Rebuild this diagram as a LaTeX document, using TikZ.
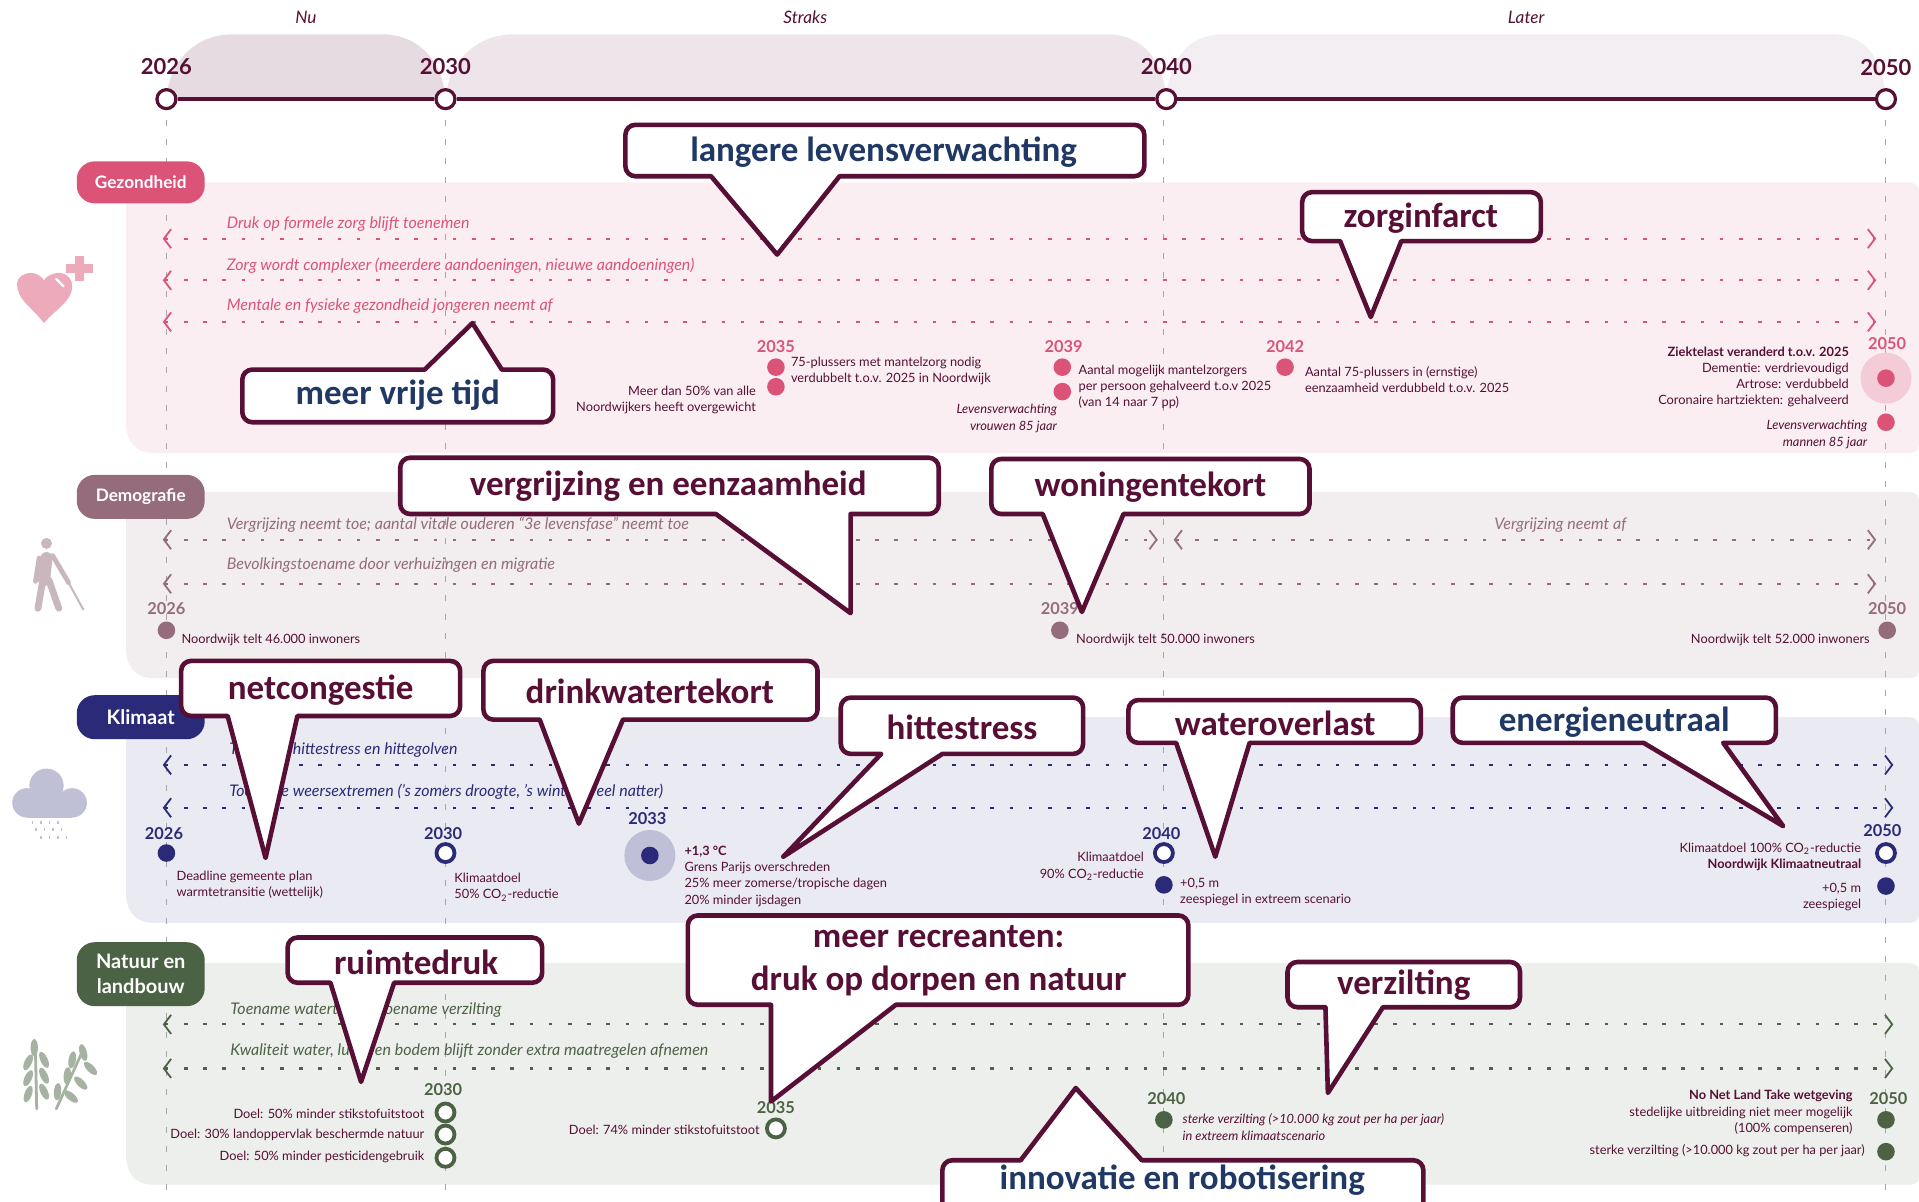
\documentclass[tikz,border=0pt]{standalone}
\usepackage{fontspec}
\setmainfont{Lato}
\newfontfamily\callfont{Carlito}
\usetikzlibrary{arrows.meta}

\definecolor{maroon}{HTML}{570F35}
\definecolor{pinkc}{HTML}{DB5478}
\definecolor{mauvec}{HTML}{956C7B}
\definecolor{navyc}{HTML}{2A2A78}
\definecolor{greenc}{HTML}{4B6344}
\definecolor{callnavy}{HTML}{1F3864}

\tikzset{
 arch/.style={fill=#1,draw=none},
 band/.style={fill=#1,draw=none},
 yearline/.style={draw=black!35,line width=0.5pt,dash pattern=on 3pt off 6.5pt},
 yearring/.style={circle,draw=maroon,fill=white,line width=1.6pt,minimum size=9.5pt,inner sep=0pt},
 yearlabel/.style={font=\bfseries\fontsize{11}{12}\selectfont,text=maroon,inner sep=0pt},
 phase/.style={font=\itshape\fontsize{8.6}{10}\selectfont,text=maroon,inner sep=0pt},
 pill/.style={rounded corners=9pt,fill=#1,text=white,minimum width=64pt,inner sep=0pt,align=center,font=\bfseries\fontsize{8.6}{10}\selectfont},
 trend/.style={draw=#1,line width=1.1pt,dash pattern=on 1.8pt off 7.8pt,
  {Straight Barb[length=3.6pt,width=9.5pt,line width=0.9pt]}-{Straight Barb[length=3.6pt,width=9.5pt,line width=0.9pt]}},
 trendtxt/.style={text=#1,anchor=west,inner sep=0pt,font=\itshape\fontsize{8}{10}\selectfont},
 mark/.style={},
 markyear/.style={text=#1,inner sep=0pt,font=\bfseries\fontsize{8.2}{10}\selectfont},
 markdot/.style={circle,fill=#1,minimum size=8.8pt,inner sep=0pt},
 markring/.style={circle,draw=#1,fill=white,line width=1.9pt,minimum size=9pt,inner sep=0pt},
 halo/.style={circle,fill=#1,minimum size=25.5pt,inner sep=0pt},
 lefttxt/.style={text=maroon,anchor=west,align=left,inner sep=0pt,font=\fontsize{6.4}{8.15}\selectfont},
 righttxt/.style={text=maroon,anchor=east,align=right,inner sep=0pt,font=\fontsize{6.4}{8.15}\selectfont},
 callline/.style={draw=maroon,fill=white,line width=2.3pt,line join=round},
 calltxt/.style={text=#1,inner sep=0pt,align=center,font=\callfont\bfseries\fontsize{17.5}{21.4}\selectfont},
}

\newcommand{\calloutdown}[8]{
 \path[callline] (#7,#8) -- ({#6},{#4-2}) [rounded corners=5pt] -- ({#3-2},{#4-2}) -- ({#3-2},{#2+2}) -- ({#1+2},{#2+2}) -- ({#1+2},{#4-2}) [sharp corners] -- ({#5},{#4-2}) -- cycle;
}
\newcommand{\calloutup}[8]{
 \path[callline] (#7,#8) -- ({#6},{#2+2}) [rounded corners=5pt] -- ({#3-2},{#2+2}) -- ({#3-2},{#4-2}) -- ({#1+2},{#4-2}) -- ({#1+2},{#2+2}) [sharp corners] -- ({#5},{#2+2}) -- cycle;
}
\newcommand{\grain}[3]{
 \fill[black!0,fill=wheatc] (#1,#2) ellipse[x radius=3,y radius=7,rotate=#3];
}
\definecolor{wheatc}{HTML}{A6B3A2}

\begin{document}
\begin{tikzpicture}[x=0.612pt,y=-0.612pt]
 \clip (0,0) rectangle (1568,982);
 \fill[white] (0,0) rectangle (1568,982);

 % periods
 \path[arch=maroon!15] (136,81) .. controls (138,50) and (160,28) .. (190,28) -- (312,28) .. controls (342,28) and (362,50) .. (364,81) -- cycle;
 \path[arch=maroon!11] (364,81) .. controls (366,50) and (390,28) .. (420,28) -- (904,28) .. controls (934,28) and (951,50) .. (953,81) -- cycle;
 \path[arch=maroon!7] (953,81) .. controls (955,50) and (970,28) .. (1000,28) -- (1496,28) .. controls (1526,28) and (1539,50) .. (1541,81) -- cycle;

 \node[phase] (Nu) at(250,14) {Nu};
 \node[phase] (Straks) at(658,14) {Straks};
 \node[phase] (Later) at(1247,14) {Later};

 % bands
 \path[band=pinkc!10] (125,149) -- (1560,149) .. controls (1565,149) and (1568,152) .. (1568,156) -- (1568,363) .. controls (1568,368) and (1565,370) .. (1560,370) -- (125,370) .. controls (110,370) and (103,360) .. (103,345) -- (103,149) -- cycle;
 \path[band=mauvec!12] (125,402) -- (1560,402) .. controls (1565,402) and (1568,405) .. (1568,409) -- (1568,547) .. controls (1568,552) and (1565,554) .. (1560,554) -- (125,554) .. controls (110,554) and (103,544) .. (103,529) -- (103,402) -- cycle;
 \path[band=navyc!10] (125,586) -- (1560,586) .. controls (1565,586) and (1568,589) .. (1568,593) -- (1568,747) .. controls (1568,752) and (1565,754) .. (1560,754) -- (125,754) .. controls (110,754) and (103,744) .. (103,729) -- (103,586) -- cycle;
 \path[band=greenc!10] (125,787) -- (1560,787) .. controls (1565,787) and (1568,790) .. (1568,794) -- (1568,961) .. controls (1568,966) and (1565,968) .. (1560,968) -- (125,968) .. controls (110,968) and (103,958) .. (103,943) -- (103,787) -- cycle;

 % timeline
 \coordinate (v2026) at(136,98);
 \coordinate (v2030) at(364,98);
 \coordinate (v2040) at(951,98);
 \coordinate (v2050) at(1541,98);
 \coordinate (w2026) at(136,982);
 \coordinate (w2030) at(364,982);
 \coordinate (w2040) at(951,982);
 \coordinate (w2050) at(1541,982);
 \draw[yearline] (v2026) -- (w2026);
 \draw[yearline] (v2030) -- (w2030);
 \draw[yearline] (v2040) -- (w2040);
 \draw[yearline] (v2050) -- (w2050);

 \node[yearring] (t2026) at(136,81) {};
 \node[yearring] (t2030) at(364,81) {};
 \node[yearring] (t2040) at(953,81) {};
 \node[yearring] (t2050) at(1541,81) {};
 \draw[maroon,line width=1.7pt] (t2026) -- (t2030);
 \draw[maroon,line width=1.7pt] (t2030) -- (t2040);
 \draw[maroon,line width=1.7pt] (t2040) -- (t2050);

 \node[yearlabel] (y2026) at(136,54) {2026};
 \node[yearlabel] (y2030) at(364,54) {2030};
 \node[yearlabel] (y2040) at(953,54) {2040};
 \node[yearlabel] (y2050) at(1541,55) {2050};

 % categories
 \node[pill=pinkc,minimum height=21pt] (Gezondheid) at(115,149) {Gezondheid};
 \node[pill=mauvec,minimum height=22pt] (Demografie) at(115,406) {Demografie};
 \node[pill=navyc,minimum height=22pt,font=\bfseries\fontsize{10}{12}\selectfont] (Klimaat) at(115,586) {Klimaat};
 \node[pill=greenc,minimum height=32pt,font=\bfseries\fontsize{10}{12.4}\selectfont] (Natuur) at(115,796) {Natuur en\\landbouw};

 % icons
 \fill[pinkc!50] (36,264) .. controls (25,250) and (14,245) .. (14,232) .. controls (14,226) and (20,223) .. (25,223) .. controls (30,223) and (34,226) .. (36,229) .. controls (38,225) and (44,223) .. (48,223) .. controls (55,223) and (59,228) .. (59,234) .. controls (59,246) and (46,252) .. (36,264) -- cycle;
 \draw[white,line width=1.2pt,line cap=round] (46,228) -- (52,234);
 \fill[pinkc!50] (61.5,209) rectangle (68.5,230);
 \fill[pinkc!50] (54,216) rectangle (76,223);

 \fill[mauvec!50] (38,444) circle[radius=4.5];
 \draw[mauvec!50,line width=6pt,line cap=round] (38,456) -- (36,474);
 \draw[mauvec!50,line width=3.4pt,line cap=round] (35,474) -- (31,497);
 \draw[mauvec!50,line width=3.4pt,line cap=round] (40,474) -- (48,497);
 \draw[mauvec!50,line width=2.4pt,line cap=round] (43,454) -- (56,476);
 \draw[mauvec!50,line width=2.4pt,line cap=round] (32,456) -- (29,475);
 \draw[mauvec!50,line width=1pt,line cap=round] (56,476) -- (68,498);

 \fill[navyc!30] (38,642) circle[radius=14];
 \fill[navyc!30] (22,656) circle[radius=12];
 \fill[navyc!30] (59,656) circle[radius=12];
 \fill[navyc!30] (22,650) rectangle (59,668);
 \draw[navyc!30,line width=1.6pt,dash pattern=on 0.8pt off 3.4pt] (26,672) -- (50,672);
 \draw[navyc!30,line width=1.6pt,dash pattern=on 0.8pt off 3.4pt] (29,678) -- (54,678);
 \draw[navyc!30,line width=1.6pt,dash pattern=on 0.8pt off 3.4pt] (33,684) -- (58,684);

 \draw[wheatc,line width=1.4pt,line cap=round] (30,906) -- (29,860);
 \draw[wheatc,line width=1.4pt,line cap=round] (46,906) -- (66,862);
 \grain{28}{856}{0}
 \grain{23}{868}{-25}
 \grain{36}{866}{25}
 \grain{23}{881}{-25}
 \grain{36}{879}{25}
 \grain{23}{894}{-20}
 \grain{36}{892}{25}
 \grain{68}{860}{15}
 \grain{59}{866}{-10}
 \grain{74}{873}{45}
 \grain{55}{879}{-5}
 \grain{66}{885}{45}
 \grain{47}{892}{-5}
 \grain{58}{896}{50}

 % Gezondheid
 \coordinate (g1a) at(133,195); \coordinate (g1b) at(1533,195);
 \coordinate (g2a) at(133,229); \coordinate (g2b) at(1533,229);
 \coordinate (g3a) at(133,263); \coordinate (g3b) at(1533,263);
 \draw[trend=pinkc] (g1a) -- (g1b);
 \draw[trend=pinkc] (g2a) -- (g2b);
 \draw[trend=pinkc] (g3a) -- (g3b);
 \node[trendtxt=pinkc] (g1t) at(185,183) {Druk op formele zorg blijft toenemen};
 \node[trendtxt=pinkc] (g2t) at(185,217) {Zorg wordt complexer (meerdere aandoeningen, nieuwe aandoeningen)};
 \node[trendtxt=pinkc] (g3t) at(185,250) {Mentale en fysieke gezondheid jongeren neemt af};

 \node[markyear=pinkc] (g2035) at(634,283) {2035};
 \node[markdot=pinkc] (g35a) at(634,300) {};
 \node[markdot=pinkc] (g35b) at(634,316) {};
 \node[lefttxt] (g35t) at(646,303) {75-plussers met mantelzorg nodig\\verdubbelt t.o.v. 2025 in Noordwijk};
 \node[righttxt] (g35r) at(618,327) {Meer dan 50\% van alle\\Noordwijkers heeft overgewicht};

 \node[markyear=pinkc] (g2039) at(869,283) {2039};
 \node[markdot=pinkc] (g39a) at(868,300) {};
 \node[markdot=pinkc] (g39b) at(868,320) {};
 \node[lefttxt] (g39t) at(881,316) {Aantal mogelijk mantelzorgers\\per persoon gehalveerd t.o.v 2025\\(van 14 naar 7 pp)};
 \node[righttxt,font=\itshape\fontsize{6.4}{8.15}\selectfont] (g39r) at(864,342) {Levensverwachting\\vrouwen 85 jaar};

 \node[markyear=pinkc] (g2042) at(1050,283) {2042};
 \node[markdot=pinkc] (g42a) at(1050,300) {};
 \node[lefttxt] (g42t) at(1066,310) {Aantal 75-plussers in (ernstige)\\eenzaamheid verdubbeld t.o.v. 2025};

 \node[halo=pinkc!30] (g50h) at(1541,309) {};
 \node[markyear=pinkc] (g2050) at(1542,281) {2050};
 \node[markdot=pinkc] (g50a) at(1541,309) {};
 \node[markdot=pinkc] (g50b) at(1541,345) {};
 \node[righttxt] (g50t) at(1511,308) {\textbf{Ziektelast veranderd t.o.v. 2025}\\Dementie: verdrievoudigd\\Artrose: verdubbeld\\Coronaire hartziekten: gehalveerd};
 \node[righttxt,font=\itshape\fontsize{6.4}{8.15}\selectfont] (g50r) at(1526,355) {Levensverwachting\\mannen 85 jaar};

 % Demografie
 \coordinate (d1a) at(133,441); \coordinate (d1b) at(946,441);
 \coordinate (d1c) at(959,441); \coordinate (d1d) at(1533,441);
 \coordinate (d2a) at(133,477); \coordinate (d2b) at(1533,477);
 \draw[trend=mauvec] (d1a) -- (d1b);
 \draw[trend=mauvec] (d1c) -- (d1d);
 \draw[trend=mauvec] (d2a) -- (d2b);
 \node[trendtxt=mauvec] (d1t) at(185,429) {Vergrijzing neemt toe; aantal vitale ouderen “3e levensfase” neemt toe};
 \node[trendtxt=mauvec,anchor=center] (d1u) at(1275,429) {Vergrijzing neemt af};
 \node[trendtxt=mauvec] (d2t) at(185,462) {Bevolkingstoename door verhuizingen en migratie};

 \node[markyear=mauvec] (d2026) at(136,497) {2026};
 \node[markdot=mauvec] (d26a) at(136,515) {};
 \node[lefttxt] (d26t) at(148,523) {Noordwijk telt 46.000 inwoners};
 \node[markyear=mauvec] (d2039) at(866,497) {2039};
 \node[markdot=mauvec] (d39a) at(866,515) {};
 \node[lefttxt] (d39t) at(879,523) {Noordwijk telt 50.000 inwoners};
 \node[markyear=mauvec] (d2050) at(1542,497) {2050};
 \node[markdot=mauvec] (d50a) at(1542,515) {};
 \node[righttxt] (d50t) at(1528,523) {Noordwijk telt 52.000 inwoners};

 % Klimaat
 \coordinate (k1a) at(133,625); \coordinate (k1b) at(1547,625);
 \coordinate (k2a) at(133,660); \coordinate (k2b) at(1547,660);
 \draw[trend=navyc] (k1a) -- (k1b);
 \draw[trend=navyc] (k2a) -- (k2b);
 \node[trendtxt=navyc] (k1t) at(187,613) {Toename hittestress en hittegolven};
 \node[trendtxt=navyc] (k2t) at(187,647) {Toename weersextremen ('s zomers droogte, 's winters veel natter)};

 \node[markyear=navyc] (k2026) at(134,681) {2026};
 \node[markdot=navyc] (k26a) at(136,697) {};
 \node[lefttxt] (k26t) at(144,723) {Deadline gemeente plan\\warmtetransitie (wettelijk)};
 \node[markyear=navyc] (k2030) at(362,681) {2030};
 \node[markring=navyc] (k30a) at(364,697) {};
 \node[lefttxt] (k30t) at(371,725) {Klimaatdoel\\50\% CO\textsubscript{2}-reductie};
 \node[markyear=navyc] (k2033) at(529,669) {2033};
 \node[halo=navyc!30] (k33h) at(531,699) {};
 \node[markdot=navyc] (k33a) at(531,699) {};
 \node[lefttxt] (k33t) at(559,716) {\textbf{+1,3 °C}\\Grens Parijs overschreden\\25\% meer zomerse/tropische dagen\\20\% minder ijsdagen};
 \node[markyear=navyc] (k2040) at(949,681) {2040};
 \node[markring=navyc] (k40a) at(951,697) {};
 \node[markdot=navyc] (k40b) at(951,723) {};
 \node[righttxt] (k40r) at(935,708) {Klimaatdoel\\90\% CO\textsubscript{2}-reductie};
 \node[lefttxt] (k40t) at(964,729) {+0,5 m\\zeespiegel in extreem scenario};
 \node[markyear=navyc] (k2050) at(1538,679) {2050};
 \node[markring=navyc] (k50a) at(1541,697) {};
 \node[markdot=navyc] (k50b) at(1541,724) {};
 \node[righttxt] (k50r) at(1521,700) {Klimaatdoel 100\% CO\textsubscript{2}-reductie\\\textbf{Noordwijk Klimaatneutraal}};
 \node[righttxt] (k50t) at(1521,733) {+0,5 m\\zeespiegel};

 % Natuur
 \coordinate (n1a) at(133,837); \coordinate (n1b) at(1547,837);
 \coordinate (n2a) at(133,873); \coordinate (n2b) at(1547,873);
 \draw[trend=greenc] (n1a) -- (n1b);
 \draw[trend=greenc] (n2a) -- (n2b);
 \node[trendtxt=greenc] (n1t) at(188,825) {Toename watertekort, toename verzilting};
 \node[trendtxt=greenc] (n2t) at(188,859) {Kwaliteit water, lucht en bodem blijft zonder extra maatregelen afnemen};

 \node[markyear=greenc] (n2030) at(362,890) {2030};
 \node[markring=greenc] (n30a) at(364,909) {};
 \node[markring=greenc] (n30b) at(364,927) {};
 \node[markring=greenc] (n30c) at(364,946) {};
 \node[righttxt] (n30t) at(347,910) {Doel: 50\% minder stikstofuitstoot};
 \node[righttxt] (n30u) at(347,927) {Doel: 30\% landoppervlak beschermde natuur};
 \node[righttxt] (n30v) at(347,945) {Doel: 50\% minder pesticidengebruik};
 \node[markyear=greenc] (n2035) at(634,905) {2035};
 \node[markring=greenc] (n35a) at(634,922) {};
 \node[righttxt] (n35t) at(621,923) {Doel: 74\% minder stikstofuitstoot};
 \node[markyear=greenc] (n2040) at(953,898) {2040};
 \node[markdot=greenc] (n40a) at(951,915) {};
 \node[lefttxt,font=\itshape\fontsize{6.4}{8.15}\selectfont] (n40t) at(966,921) {sterke verzilting (>10.000 kg zout per ha per jaar)\\in extreem klimaatscenario};
 \node[markyear=greenc] (n2050) at(1543,898) {2050};
 \node[markdot=greenc] (n50a) at(1541,915) {};
 \node[markdot=greenc] (n50b) at(1541,941) {};
 \node[righttxt] (n50t) at(1514,909) {\textbf{No Net Land Take wetgeving}\\stedelijke uitbreiding niet meer mogelijk\\(100\% compenseren)};
 \node[righttxt] (n50u) at(1524,940) {sterke verzilting (>10.000 kg zout per ha per jaar)};

 % callouts
 \calloutdown{509}{100}{937}{146}{581}{686}{635}{208}
 \node[calltxt=callnavy] (cLanger) at(722,124) {langere levensverwachting};
 \calloutdown{1062}{155}{1261}{199}{1095}{1145}{1120}{259}
 \node[calltxt=maroon] (cZorg) at(1161,178) {zorginfarct};
 \calloutup{196}{300}{454}{347}{347}{410}{386}{264}
 \node[calltxt=callnavy] (cVrij) at(325,323) {meer vrije tijd};
 \calloutdown{325}{372}{769}{422}{585}{695}{695}{501}
 \node[calltxt=maroon] (cGrijs) at(546,397) {vergrijzing en eenzaamheid};
 \calloutdown{808}{373}{1072}{422}{852}{918}{884}{500}
 \node[calltxt=maroon] (cWoning) at(940,398) {woningentekort};
 \calloutdown{146}{538}{378}{587}{186}{243}{217}{701}
 \node[calltxt=maroon] (cNet) at(262,564) {netcongestie};
 \calloutdown{393}{538}{670}{590}{441}{509}{473}{673}
 \node[calltxt=maroon] (cDrink) at(531,565) {drinkwatertekort};
 \calloutdown{685}{568}{887}{618}{720}{770}{640}{700}
 \node[calltxt=maroon] (cHitte) at(786,594) {hittestress};
 \calloutdown{920}{570}{1163}{609}{961}{1021}{993}{700}
 \node[calltxt=maroon] (cWater) at(1042,591) {wateroverlast};
 \calloutdown{1185}{568}{1453}{609}{1343}{1408}{1457}{675}
 \node[calltxt=callnavy] (cEnergie) at(1319,590) {energieneutraal};
 \calloutdown{233}{764}{445}{805}{270}{322}{295}{884}
 \node[calltxt=maroon] (cRuimte) at(340,786) {ruimtedruk};
 \calloutdown{560}{746}{973}{823}{630}{732}{630}{900}
 \node[calltxt=maroon] (cRecreant) at(767,785) {meer recreanten:\\druk op dorpen en natuur};
 \calloutdown{1050}{784}{1244}{825}{1083}{1130}{1085}{893}
 \node[calltxt=maroon] (cZout) at(1147,805) {verzilting};
 \calloutup{768}{946}{1165}{995}{834}{933}{879}{889}
 \node[calltxt=callnavy] (cInnovatie) at(966,964) {innovatie en robotisering};
\end{tikzpicture}
\end{document}
